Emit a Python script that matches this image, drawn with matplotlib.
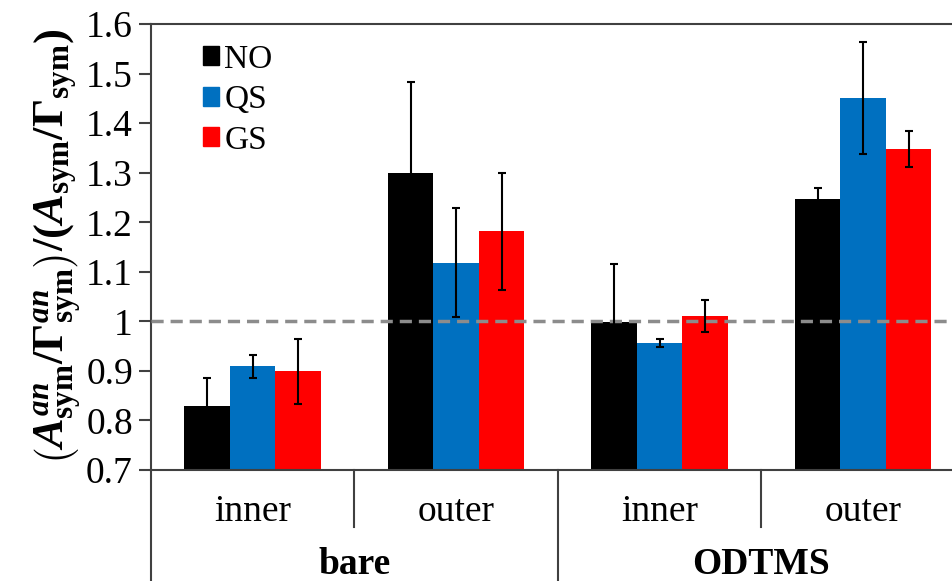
import numpy as np
import matplotlib
matplotlib.use('Agg')
import matplotlib.pyplot as plt
from matplotlib.patches import Patch

plt.rcParams['font.family'] = 'Liberation Serif'
plt.rcParams['mathtext.fontset'] = 'custom'
plt.rcParams['mathtext.rm'] = 'Liberation Serif:bold'
plt.rcParams['mathtext.it'] = 'Liberation Serif:bold:italic'
plt.rcParams['mathtext.bf'] = 'Liberation Serif:bold'

# data
positions = ['inner', 'outer', 'inner', 'outer']
surfaces = ['bare', 'ODTMS']
series = ['NO', 'QS', 'GS']
colors = ['#000000', '#0070C0', '#FF0000']
no_vals = [0.829, 1.300, 0.998, 1.246]
qs_vals = [0.909, 1.118, 0.957, 1.450]
gs_vals = [0.899, 1.182, 1.011, 1.348]
no_err = [0.057, 0.184, 0.118, 0.023]
qs_err = [0.024, 0.110, 0.008, 0.113]
gs_err = [0.066, 0.118, 0.032, 0.036]

fig = plt.figure(figsize=(9.52, 5.81), dpi=100)
ax = fig.add_axes([0.1586, 0.191, 0.855, 0.7676])

x = np.arange(len(positions))
w = 0.2236
vals = [no_vals, qs_vals, gs_vals]
errs = [no_err, qs_err, gs_err]
for i in range(3):
    ax.bar(x + (i - 1) * w, vals[i], w, bottom=0, color=colors[i], zorder=2)
    ax.errorbar(x + (i - 1) * w, vals[i], yerr=errs[i], fmt='none', ecolor='black',
                elinewidth=1.5, capsize=3, capthick=1.5, zorder=4)

ax.axhline(1.0, color='#8c8c8c', linestyle=(0, (3.5, 2)), lw=2.5, zorder=3)

ax.set_xlim(-0.5, 3.5)
ax.set_ylim(0.7, 1.6)
ax.set_yticks(np.arange(0.7, 1.61, 0.1))
ax.set_yticklabels(['0.7', '0.8', '0.9', '1', '1.1', '1.2', '1.3', '1.4', '1.5', '1.6'])
ax.tick_params(axis='y', direction='out', length=9, width=1.5, color='#404040',
               labelsize=27, pad=4)
ax.set_xticks([])
for s in ['left', 'bottom', 'top']:
    ax.spines[s].set_color('#404040')
    ax.spines[s].set_linewidth(1.5)
ax.spines['right'].set_visible(False)

ax.set_ylabel(r'$\left(A^{an}_{\mathrm{sym}}/\Gamma^{an}_{\mathrm{sym}}\right)/\left(A_{\mathrm{sym}}/\Gamma_{\mathrm{sym}}\right)$',
              fontsize=32, labelpad=2)

# multi-level category axis
tr = ax.get_xaxis_transform()
for xi, lab in zip(x, positions):
    ax.text(xi, -0.094, lab, transform=tr, ha='center', va='center', fontsize=27)
for k, lab in enumerate(surfaces):
    ax.text(2 * k + 0.5, -0.212, lab, transform=tr, ha='center', va='center',
            fontsize=27, fontweight='bold')
for xs in [0.5, 2.5]:
    ax.plot([xs, xs], [0, -0.128], transform=tr, color='#404040', lw=1.5, clip_on=False)
for xs in [-0.5, 1.5, 3.5]:
    ax.plot([xs, xs], [0, -0.3], transform=tr, color='#404040', lw=1.5, clip_on=False)

handles = [Patch(color=c, label=s) for c, s in zip(colors, series)]
ax.legend(handles=handles, loc='upper left', bbox_to_anchor=(0.047, 0.985), frameon=False,
          fontsize=24, handlelength=0.5, handleheight=0.5, handletextpad=0.15,
          labelspacing=0.3, borderaxespad=0)

fig.savefig('out.png', dpi=100)
